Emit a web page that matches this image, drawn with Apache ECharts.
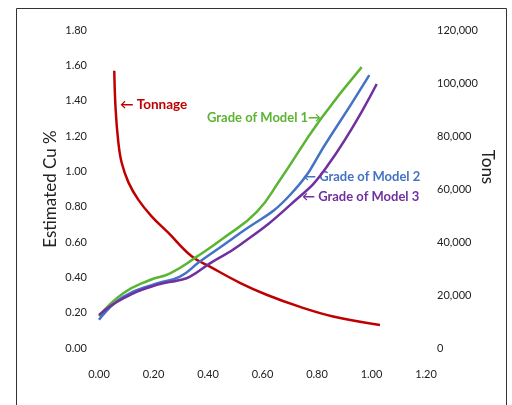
<!DOCTYPE html>
<html><head><meta charset="utf-8">
<script src="https://cdn.jsdelivr.net/npm/echarts@6/dist/echarts.min.js"></script>
<style>html,body{margin:0;padding:0;background:#fff}#c{width:512px;height:405px}</style>
</head><body><div id="c"></div>
<script>
var xTicks = [0, 0.2, 0.4, 0.6, 0.8, 1.0, 1.2];
var gradeTicks = [0, 0.2, 0.4, 0.6, 0.8, 1.0, 1.2, 1.4, 1.6, 1.8];
var tonTicks = [0, 20000, 40000, 60000, 80000, 100000, 120000];

var tonnageX = [0.056, 0.061, 0.071, 0.083, 0.108, 0.144, 0.193, 0.254, 0.340, 0.407, 0.517, 0.615, 0.738, 0.859, 1.031];
var tonnageY = [104600, 90100, 77600, 70000, 62500, 56000, 49700, 43500, 34600, 30700, 24600, 20100, 15500, 11900, 8700];

var model1X = [0.0, 0.089, 0.187, 0.261, 0.359, 0.456, 0.579, 0.664, 0.811, 0.964];
var model1Y = [0.18, 0.31, 0.385, 0.423, 0.517, 0.621, 0.771, 0.951, 1.29, 1.59];

var model2X = [0.0, 0.089, 0.212, 0.297, 0.369, 0.517, 0.701, 0.848, 0.992];
var model2Y = [0.16, 0.29, 0.366, 0.404, 0.488, 0.649, 0.866, 1.196, 1.545];

var model3X = [0.0, 0.089, 0.212, 0.297, 0.334, 0.407, 0.517, 0.701, 0.836, 1.019];
var model3Y = [0.187, 0.281, 0.357, 0.385, 0.404, 0.479, 0.583, 0.809, 1.026, 1.494];

function pairs(xs, ys) { return xs.map(function (x, i) { return [x, ys[i]]; }); }

var FONT = 'Lato, "Open Sans", sans-serif';
var RED = '#C00000', GREEN = '#5BB432', BLUE = '#4472C4', PURPLE = '#7030A0';

var chart = echarts.init(document.getElementById('c'));
var lbl = { color: '#222', fontFamily: FONT, fontSize: 11 };
chart.setOption({
  animation: false,
  grid: { left: 99, right: 86, top: 30, bottom: 57, containLabel: false, outerBoundsMode: 'none' },
  xAxis: {
    type: 'value', min: xTicks[0], max: xTicks[xTicks.length - 1], interval: 0.2,
    axisLine: { show: false }, axisTick: { show: false }, splitLine: { show: false },
    axisLabel: Object.assign({ margin: 21, formatter: function (v) { return v.toFixed(2); } }, lbl)
  },
  yAxis: [{
    type: 'value', min: gradeTicks[0], max: gradeTicks[gradeTicks.length - 1], interval: 0.2,
    axisLine: { show: false }, axisTick: { show: false }, splitLine: { show: false },
    axisLabel: Object.assign({ margin: 12, formatter: function (v) { return v.toFixed(2); } }, lbl),
    name: 'Estimated Cu %', nameLocation: 'middle', nameRotate: 90, nameGap: 40, nameMoveOverlap: false,
    nameTextStyle: { fontFamily: FONT, fontSize: 17, color: '#222' }
  }, {
    type: 'value', position: 'right', min: tonTicks[0], max: tonTicks[tonTicks.length - 1], interval: 20000,
    axisLine: { show: false }, axisTick: { show: false }, splitLine: { show: false },
    axisLabel: Object.assign({ margin: 11, formatter: function (v) { return v.toLocaleString('en-US'); } }, lbl),
    name: 'Tons', nameLocation: 'middle', nameRotate: -90, nameGap: 53, nameMoveOverlap: false,
    nameTextStyle: { fontFamily: FONT, fontSize: 17, color: '#222', padding: [0, 44, 0, 0] }
  }],
  series: [
    { name: 'Tonnage', type: 'line', yAxisIndex: 1, data: pairs(tonnageX, tonnageY), smooth: 0.4, showSymbol: false, lineStyle: { color: RED, width: 2.5 } },
    { name: 'Grade of Model 1', type: 'line', data: pairs(model1X, model1Y), smooth: 0.5, showSymbol: false, lineStyle: { color: GREEN, width: 2.5 } },
    { name: 'Grade of Model 2', type: 'line', data: pairs(model2X, model2Y), smooth: 0.5, showSymbol: false, lineStyle: { color: BLUE, width: 2.5 } },
    { name: 'Grade of Model 3', type: 'line', data: pairs(model3X, model3Y), smooth: 0.5, showSymbol: false, lineStyle: { color: PURPLE, width: 2.5 } }
  ],
  graphic: [
    { type: 'rect', shape: { x: 16.5, y: 8.5, width: 490, height: 420 }, style: { fill: 'none', stroke: '#333', lineWidth: 1 }, silent: true },
    { type: 'text', left: 120, top: 98, style: { text: '\u2190 Tonnage', fill: RED, font: 'bold 13.5px ' + FONT } },
    { type: 'text', left: 207, top: 111, style: { text: 'Grade of Model 1\u2192', fill: GREEN, font: 'bold 13px ' + FONT } },
    { type: 'text', left: 303, top: 170, style: { text: '\u2190 Grade of Model 2', fill: BLUE, font: 'bold 13px ' + FONT } },
    { type: 'text', left: 302, top: 190, style: { text: '\u2190 Grade of Model 3', fill: PURPLE, font: 'bold 13px ' + FONT } }
  ]
});
</script></body></html>
